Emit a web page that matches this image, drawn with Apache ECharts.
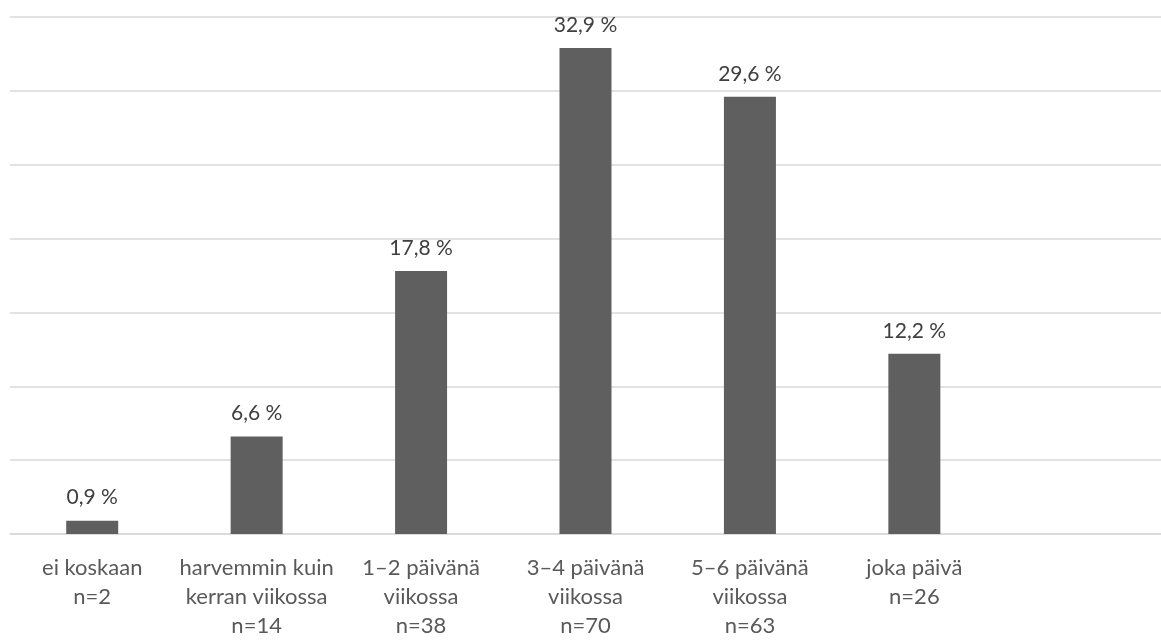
<!doctype html>
<html>
<head>
<meta charset="utf-8">
<title>Kuinka usein</title>
<script src="https://cdn.jsdelivr.net/npm/echarts@6/dist/echarts.min.js"></script>
<style>
html,body{margin:0;padding:0;background:#fff;}
</style>
</head>
<body>
<div id="chart" style="width:1161px;height:640px;"></div>
<script type="text/javascript">
// luokat, otoskoot ja osuudet (%)
var categories = ['ei koskaan', 'harvemmin kuin\nkerran viikossa', '1–2 päivänä\nviikossa', '3–4 päivänä\nviikossa', '5–6 päivänä\nviikossa', 'joka päivä', ''];
var counts = ['n=2', 'n=14', 'n=38', 'n=70', 'n=63', 'n=26', ''];
var percents = [0.9, 6.6, 17.8, 32.9, 29.6, 12.2, null];

var labels = [];
for (var i = 0; i < categories.length; i++) {
	labels.push(categories[i] === '' ? '' : categories[i] + '\n' + counts[i]);
}

var chart = echarts.init(document.getElementById('chart'));
chart.setOption({
	animation: false,
	textStyle: {
		fontFamily: 'Lato'
	},
	grid: {
		left: 10,
		top: 17,
		width: 1153,
		height: 521
	},
	xAxis: {
		type: 'category',
		data: labels,
		axisTick: { show: false },
		axisLine: {
			lineStyle: { color: '#d9d9d9', width: 1.5 }
		},
		axisLabel: {
			interval: 0,
			color: '#595959',
			fontSize: 22,
			lineHeight: 29,
			margin: 19
		}
	},
	yAxis: {
		type: 'value',
		min: 0,
		max: 35,
		interval: 5,
		axisLabel: { show: false },
		axisLine: { show: false },
		axisTick: { show: false },
		splitLine: {
			lineStyle: { color: '#d9d9d9', width: 1.5 }
		}
	},
	series: [{
		type: 'bar',
		data: percents,
		barWidth: 52,
		itemStyle: {
			color: '#5f5f5f'
		},
		label: {
			show: true,
			position: 'top',
			distance: 12,
			color: '#404040',
			fontSize: 21,
			lineHeight: 22,
			formatter: function (p) {
				return String(p.value).replace('.', ',') + ' %';
			}
		}
	}]
});
</script>
</body>
</html>
